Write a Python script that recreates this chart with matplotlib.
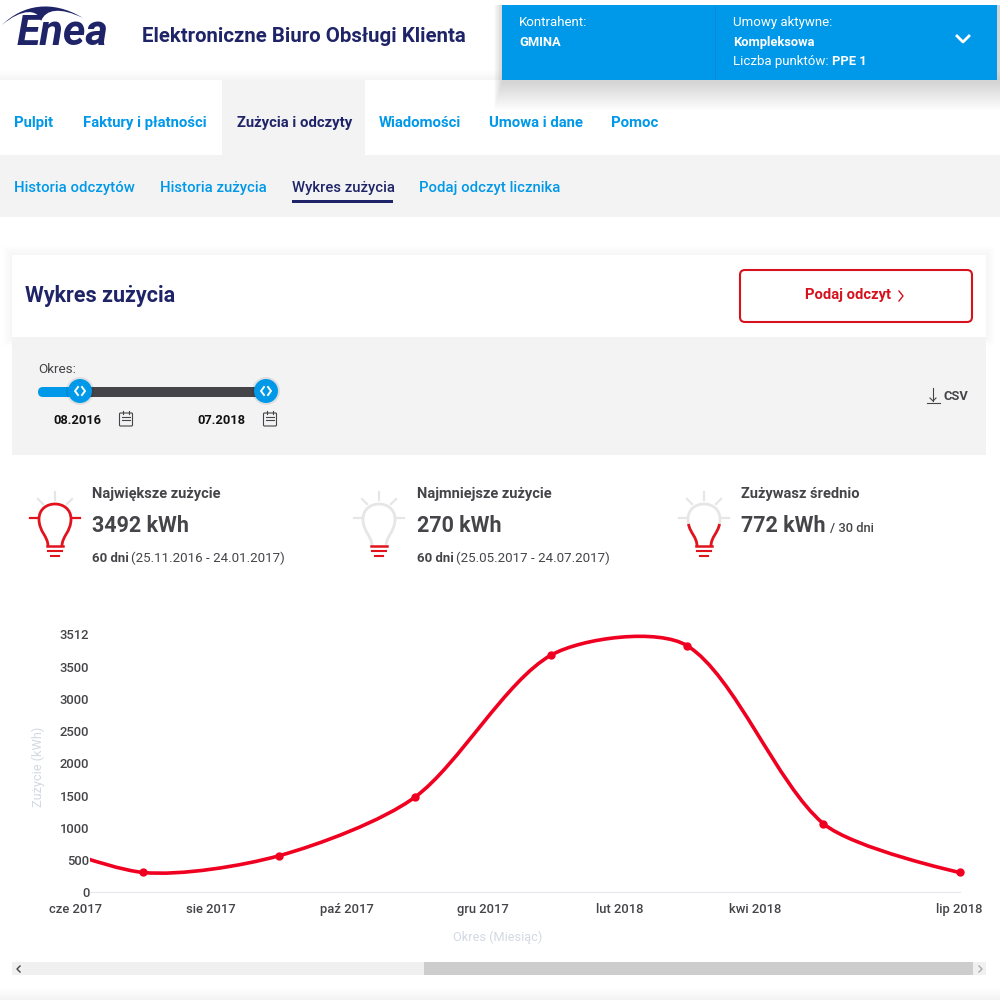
import numpy as np
import matplotlib
matplotlib.use('Agg')
import matplotlib.pyplot as plt
from matplotlib.patches import Rectangle, FancyBboxPatch, Circle, PathPatch
from matplotlib.path import Path

plt.rcParams['font.family'] = ['Roboto', 'DejaVu Sans']

# dane wykresu
miesiace = ['maj 2017', 'cze 2017', 'lip 2017', 'sie 2017', 'wrz 2017', 'paz 2017', 'lis 2017', 'gru 2017',
            'sty 2018', 'lut 2018', 'mar 2018', 'kwi 2018', 'maj 2018', 'cze 2018', 'lip 2018']
punkty_mies = ['maj 2017', 'lip 2017', 'wrz 2017', 'lis 2017', 'sty 2018', 'mar 2018', 'maj 2018', 'lip 2018']
zuzycie = [850, 270, 498, 1298, 3230, 3355, 934, 270]
y_etykiety = ['0', '500', '1000', '1500', '2000', '2500', '3000', '3500', '3512']
x_etykiety = ['cze 2017', 'sie 2017', 'paź 2017', 'gru 2017', 'lut 2018', 'kwi 2018', 'lip 2018']
x_etykiety_idx = [1, 3, 5, 7, 9, 11, 14]
y_max = 3512

GRANAT = '#1f2468'
NIEBIESKI = '#0098e8'
CZERWONY = '#e1141e'
SZARY = '#454549'
TLO = '#f3f3f3'

fig = plt.figure(figsize=(10, 10), dpi=100)
ui = fig.add_axes([0, 0, 1, 1])
ui.set_xlim(0, 1000)
ui.set_ylim(1000, 0)
ui.axis('off')


def prost(x0, y0, x1, y1, kolor, **kw):
    ui.add_patch(Rectangle((x0, y0), x1 - x0, y1 - y0, color=kolor, lw=0, **kw))


def tekst(x, y, s, size, kolor=SZARY, waga='normal', **kw):
    kw.setdefault('va', 'center')
    ui.text(x, y + 1.2, s, fontsize=size, color=kolor, fontweight=waga, **kw)


# cien pod naglowkiem
for i in range(10):
    prost(0, 70 + i, 1000, 80, '#000000', alpha=0.003)

# paski nawigacji
prost(0, 155, 1000, 217, TLO)
prost(222, 80, 365, 155, TLO)

# logo
ui.add_patch(PathPatch(Path([(2, 25), (22, 5), (52, -1), (83, 18), (60, 7), (46, 9), (41, 21), (38, 9), (22, 8), (2, 25)],
                            [Path.MOVETO, Path.CURVE4, Path.CURVE4, Path.CURVE4, Path.CURVE4, Path.CURVE4, Path.CURVE4,
                             Path.CURVE4, Path.CURVE4, Path.CURVE4]), color=GRANAT, lw=0))
tekst(17, 32, 'Enea', 31, GRANAT, 'bold', style='italic')
tekst(142, 35, 'Elektroniczne Biuro Obsługi Klienta', 14.7, GRANAT, 'bold')

# prawy panel z cieniem
for i in range(14):
    prost(494 + i * 0.6, 5, 1000, 110 - 2 * i, '#000000', alpha=0.012)
prost(502, 5, 997, 80, NIEBIESKI)
prost(715, 5, 716, 80, '#0a88d4')
tekst(519, 21, 'Kontrahent:', 9.5, 'white')
tekst(519, 41, 'GMINA', 9.3, 'white', 'bold')
tekst(733, 21, 'Umowy aktywne:', 9.5, 'white')
tekst(733, 41, 'Kompleksowa', 9.3, 'white', 'bold')
tekst(733, 60, 'Liczba punktów:', 9.5, 'white')
tekst(832, 60, 'PPE 1', 9.3, 'white', 'bold')
ui.plot([957, 963, 969], [36, 42, 36], color='white', lw=2)

# menu
for x, s, kol in [(14, 'Pulpit', NIEBIESKI), (83, 'Faktury i płatności', NIEBIESKI), (237, 'Zużycia i odczyty', GRANAT),
                  (379, 'Wiadomości', NIEBIESKI), (489, 'Umowa i dane', NIEBIESKI), (611, 'Pomoc', NIEBIESKI)]:
    tekst(x, 122, s, 10.7, kol, 'bold')
for x, s, kol in [(14, 'Historia odczytów', NIEBIESKI), (160, 'Historia zużycia', NIEBIESKI),
                  (292, 'Wykres zużycia', GRANAT), (419, 'Podaj odczyt licznika', NIEBIESKI)]:
    tekst(x, 187, s, 10.7, kol, 'medium')
prost(292, 200, 393, 203, GRANAT)

# karta tytulowa
for i in range(10):
    prost(12 - i, 255 - i, 986 + i, 337 + i, '#000000', alpha=0.003)
prost(12, 337, 986, 455, TLO)
prost(12, 255, 986, 337, 'white')
tekst(25, 295, 'Wykres zużycia', 15.5, GRANAT, 'bold')
ui.add_patch(FancyBboxPatch((740, 270), 232, 52, boxstyle='round,pad=0,rounding_size=5', fc='white', ec='#d5121e', lw=1.5))
tekst(805, 294, 'Podaj odczyt', 10.6, '#d5121e', 'bold')
ui.plot([899, 903, 899], [291, 296, 301], color='#d5121e', lw=1)

# suwak okresu
tekst(38, 368, 'Okres:', 9.7, SZARY)
ui.add_patch(FancyBboxPatch((38, 387), 60, 10, boxstyle='round,pad=0,rounding_size=5', fc=NIEBIESKI, lw=0))
prost(80, 387, 266, 397, SZARY)
for cx in [80, 266]:
    ui.add_patch(Circle((cx, 391), 14, color='#000000', alpha=0.08, lw=0))
    ui.add_patch(Circle((cx, 391), 12, color=NIEBIESKI, lw=0))
    ui.plot([cx - 2, cx - 5, cx - 2], [387, 391, 395], color='white', lw=1.4)
    ui.plot([cx + 2, cx + 5, cx + 2], [387, 391, 395], color='white', lw=1.4)
for x, s, ix in [(53, '08.2016', 126), (197, '07.2018', 270)]:
    tekst(x, 419, s, 9.3, '#111111', 'bold')
    ui.add_patch(FancyBboxPatch((ix - 6.5, 413), 13, 13, boxstyle='round,pad=0,rounding_size=1', fc='none', ec=SZARY, lw=0.8))
    ui.plot([ix - 4, ix + 4], [417, 417], color=SZARY, lw=0.8)
    ui.plot([ix - 4, ix + 4], [420, 420], color=SZARY, lw=0.8)
    ui.plot([ix - 3, ix - 3], [411, 414], color=SZARY, lw=0.8)
    ui.plot([ix + 3, ix + 3], [411, 414], color=SZARY, lw=0.8)
ui.plot([933, 933], [388, 401], color=SZARY, lw=0.8)
ui.plot([930, 933, 936], [398, 401, 398], color=SZARY, lw=0.8)
ui.plot([927, 940], [403, 403], color=SZARY, lw=0.8)
tekst(944, 395, 'CSV', 9.3, SZARY, 'bold')


# zarowki
def zarowka(cx, gora, dol, podstawa, promienie):
    kody = [Path.MOVETO, Path.CURVE4, Path.CURVE4, Path.CURVE4, Path.CURVE4, Path.CURVE4, Path.CURVE4,
            Path.CURVE4, Path.CURVE4, Path.CURVE4]
    pkt = [(-7, 546), (-7, 536), (-16, 532), (-16, 519), (-16, 509), (-8, 504), (0, 504), (8, 504), (16, 509), (16, 519)]
    lewy = [(cx + a, b) for a, b in pkt]
    ui.add_patch(PathPatch(Path(lewy, kody), fc='none', ec=gora, lw=2))
    pr = [(cx + 16, 519), (cx + 16, 532), (cx + 7, 536), (cx + 7, 546)]
    ui.add_patch(PathPatch(Path(pr, [Path.MOVETO, Path.CURVE4, Path.CURVE4, Path.CURVE4]), fc='none', ec=gora, lw=2))
    if dol != gora:
        ui.add_patch(PathPatch(Path([(cx - 15.5, 524), (cx - 14, 533), (cx - 7, 537), (cx - 7, 546)],
                                    [Path.MOVETO, Path.CURVE4, Path.CURVE4, Path.CURVE4]), fc='none', ec=dol, lw=2))
        ui.add_patch(PathPatch(Path([(cx + 15.5, 524), (cx + 14, 533), (cx + 7, 537), (cx + 7, 546)],
                                    [Path.MOVETO, Path.CURVE4, Path.CURVE4, Path.CURVE4]), fc='none', ec=dol, lw=2))
    ui.plot([cx - 8, cx + 8], [546, 546], color=podstawa, lw=1.8)
    ui.plot([cx - 7, cx + 7], [551, 551], color=podstawa, lw=1.5)
    ui.plot([cx - 4, cx + 4], [556, 556], color=podstawa, lw=1.5)
    ui.plot([cx - 25, cx - 18], [518, 518], color=promienie, lw=1.6)
    ui.plot([cx + 18, cx + 25], [518, 518], color=promienie, lw=1.6)
    ui.plot([cx, cx], [492, 500], color='#e6e6e6', lw=1.6)
    ui.plot([cx - 17, cx - 12], [499, 504], color='#e6e6e6', lw=1.6)
    ui.plot([cx + 17, cx + 12], [499, 504], color='#e6e6e6', lw=1.6)


JASNY = '#e6e6e6'
zarowka(55, CZERWONY, CZERWONY, CZERWONY, CZERWONY)
zarowka(379, JASNY, JASNY, CZERWONY, JASNY)
zarowka(704, JASNY, CZERWONY, CZERWONY, JASNY)

tekst(92, 493, 'Największe zużycie', 10.5, SZARY, 'bold')
tekst(92, 525, '3492 kWh', 15.5, SZARY, 'bold')
tekst(92, 557, '60 dni', 9.5, SZARY, 'bold')
tekst(131, 557, '(25.11.2016 - 24.01.2017)', 9.6, SZARY)
tekst(417, 493, 'Najmniejsze zużycie', 10.5, SZARY, 'bold')
tekst(417, 525, '270 kWh', 15.5, SZARY, 'bold')
tekst(417, 557, '60 dni', 9.5, SZARY, 'bold')
tekst(456, 557, '(25.05.2017 - 24.07.2017)', 9.6, SZARY)
tekst(741, 493, 'Zużywasz średnio', 10.5, SZARY, 'bold')
tekst(741, 525, '772 kWh', 15.5, SZARY, 'bold')
tekst(830, 527, '/ 30 dni', 9.3, SZARY, 'medium')

# pasek przewijania
prost(12, 962, 986, 975, '#f0f0f0')
prost(424, 962, 973, 975, '#cdcdcd')
ui.plot([20, 17, 20], [966, 969, 972], color='#444444', lw=1)
ui.plot([979, 982, 979], [966, 969, 972], color='#aaaaaa', lw=1)
for i in range(12):
    prost(0, 988 + i, 1000, 1000, '#000000', alpha=0.002)

# wykres
ax = fig.add_axes([0.090, 1 - 0.8923, 0.8695, 0.258])
ax.patch.set_alpha(0)
xs = [miesiace.index(m) for m in punkty_mies]
ax.set_xlim(1.22, 14)
ax.set_ylim(0, y_max)

# gladka krzywa przez punkty, uchwyty proporcjonalne do dlugosci odcinkow
P = np.column_stack([xs, zuzycie]).astype(float)
skala = np.array([68.0, 258.0 / y_max])
napiecie = 0.28
dl = np.linalg.norm(np.diff(P, axis=0) * skala, axis=1)
wierzch = [P[0]]
kody = [Path.MOVETO]
for i in range(len(P) - 1):
    if i > 0:
        wyj = P[i] + (P[i + 1] - P[i - 1]) * napiecie * dl[i] / (dl[i - 1] + dl[i])
    else:
        wyj = P[i]
    if i < len(P) - 2:
        wej = P[i + 1] - (P[i + 2] - P[i]) * napiecie * dl[i] / (dl[i] + dl[i + 1])
    else:
        wej = P[i + 1]
    wierzch += [wyj, wej, P[i + 1]]
    kody += [Path.CURVE4] * 3
ax.add_patch(PathPatch(Path(wierzch, kody), fc='none', ec='#f00020', lw=2.6, capstyle='round'))
ax.plot(xs[1:], zuzycie[1:], 'o', color='#f00020', ms=5, clip_on=False, zorder=5)

ax.set_yticks(np.linspace(0, y_max, len(y_etykiety)), y_etykiety)
ax.set_xticks([])
ax.set_xlim(1.22, 14)
ax.set_ylim(0, y_max)
ax.tick_params(length=0, labelcolor=SZARY, labelsize=9.4, pad=0.5)
for idx, s in zip(x_etykiety_idx, x_etykiety):
    ax.annotate(s, (idx, 0), xytext=(0, -12.5), textcoords='offset points', ha='center', va='center',
                color=SZARY, fontsize=9.4, fontweight='medium', annotation_clip=False)
for s in ['top', 'right', 'left']:
    ax.spines[s].set_visible(False)
ax.spines['bottom'].set_color('#e6e6ec')
for l in ax.get_yticklabels():
    l.set_fontweight('medium')
tekst(38, 766, 'Zużycie (kWh)', 9.2, '#d3d9e3', rotation=90, ha='center')
tekst(498, 936, 'Okres (Miesiąc)', 9.2, '#d3d9e3', ha='center')

fig.savefig('out.png', dpi=100)
